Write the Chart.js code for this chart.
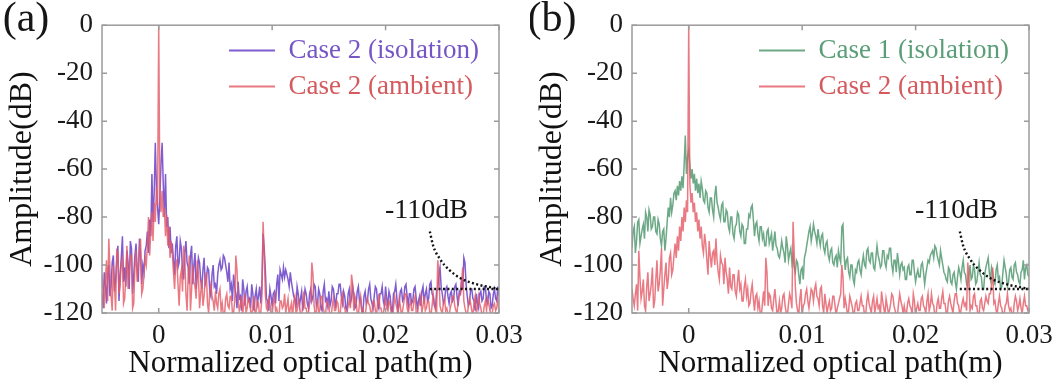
<!DOCTYPE html>
<html>
<head>
<meta charset="utf-8">
<script src="https://cdn.jsdelivr.net/npm/chart.js@4.4.1/dist/chart.umd.min.js"></script>
<style>
  html, body { margin: 0; padding: 0; background: #ffffff; overflow: hidden; }
  #wrap { position: relative; width: 1059px; height: 384px; }
  .panel { position: absolute; top: 0; width: 530px; height: 384px; }
</style>
</head>
<body>
<div id="wrap">
  <div class="panel" style="left:0"><canvas id="chartA" width="530" height="384"></canvas></div>
  <div class="panel" style="left:530px"><canvas id="chartB" width="530" height="384"></canvas></div>
</div>
<script>
// Sample positions along the normalized optical path, in millimetres (one row per mm)
const pathMm = [
  -5.0,-4.9,-4.8,-4.7,-4.6,-4.5,-4.4,-4.3,-4.2,-4.1,
  -4.0,-3.9,-3.8,-3.7,-3.6,-3.5,-3.4,-3.3,-3.2,-3.1,
  -3.0,-2.9,-2.8,-2.7,-2.6,-2.5,-2.4,-2.3,-2.2,-2.1,
  -2.0,-1.9,-1.8,-1.7,-1.6,-1.5,-1.4,-1.3,-1.2,-1.1,
  -1.0,-0.9,-0.8,-0.7,-0.6,-0.5,-0.4,-0.3,-0.2,-0.1,
  0.0,0.1,0.2,0.3,0.4,0.5,0.6,0.7,0.8,0.9,
  1.0,1.1,1.2,1.3,1.4,1.5,1.6,1.7,1.8,1.9,
  2.0,2.1,2.2,2.3,2.4,2.5,2.6,2.7,2.8,2.9,
  3.0,3.1,3.2,3.3,3.4,3.5,3.6,3.7,3.8,3.9,
  4.0,4.1,4.2,4.3,4.4,4.5,4.6,4.7,4.8,4.9,
  5.0,5.1,5.2,5.3,5.4,5.5,5.6,5.7,5.8,5.9,
  6.0,6.1,6.2,6.3,6.4,6.5,6.6,6.7,6.8,6.9,
  7.0,7.1,7.2,7.3,7.4,7.5,7.6,7.7,7.8,7.9,
  8.0,8.1,8.2,8.3,8.4,8.5,8.6,8.7,8.8,8.9,
  9.0,9.1,9.2,9.3,9.4,9.5,9.6,9.7,9.8,9.9,
  10.0,10.1,10.2,10.3,10.4,10.5,10.6,10.7,10.8,10.9,
  11.0,11.1,11.2,11.3,11.4,11.5,11.6,11.7,11.8,11.9,
  12.0,12.1,12.2,12.3,12.4,12.5,12.6,12.7,12.8,12.9,
  13.0,13.1,13.2,13.3,13.4,13.5,13.6,13.7,13.8,13.9,
  14.0,14.1,14.2,14.3,14.4,14.5,14.6,14.7,14.8,14.9,
  15.0,15.1,15.2,15.3,15.4,15.5,15.6,15.7,15.8,15.9,
  16.0,16.1,16.2,16.3,16.4,16.5,16.6,16.7,16.8,16.9,
  17.0,17.1,17.2,17.3,17.4,17.5,17.6,17.7,17.8,17.9,
  18.0,18.1,18.2,18.3,18.4,18.5,18.6,18.7,18.8,18.9,
  19.0,19.1,19.2,19.3,19.4,19.5,19.6,19.7,19.8,19.9,
  20.0,20.1,20.2,20.3,20.4,20.5,20.6,20.7,20.8,20.9,
  21.0,21.1,21.2,21.3,21.4,21.5,21.6,21.7,21.8,21.9,
  22.0,22.1,22.2,22.3,22.4,22.5,22.6,22.7,22.8,22.9,
  23.0,23.1,23.2,23.3,23.4,23.5,23.6,23.7,23.8,23.9,
  24.0,24.1,24.2,24.3,24.4,24.5,24.6,24.7,24.8,24.9,
  25.0,25.1,25.2,25.3,25.4,25.5,25.6,25.7,25.8,25.9,
  26.0,26.1,26.2,26.3,26.4,26.5,26.6,26.7,26.8,26.9,
  27.0,27.1,27.2,27.3,27.4,27.5,27.6,27.7,27.8,27.9,
  28.0,28.1,28.2,28.3,28.4,28.5,28.6,28.7,28.8,28.9,
  29.0,29.1,29.2,29.3,29.4,29.5,29.6,29.7,29.8,29.9,
  30.0
];

// Panel (a): Case 2 under isolation, amplitude in dB
const case2Isolation = [
  -112,-118,-103,-108,-116,-104,-100,-113,-109,-99,
  -96,-111,-106,-98,-92,-115,-104,-97,-88,-107,
  -101,-109,-94,-99,-110,-90,-93,-112,-104,-96,
  -91,-102,-107,-89,-95,-108,-100,-103,-94,-92,
  -86,-95,-81,-88,-62,-82,-70,-49,-68,-76,
  -83,-72,-58,-49,-66,-80,-62,-84,-80,-93,
  -84,-95,-91,-98,-104,-92,-88,-101,-99,-90,
  -93,-103,-106,-95,-90,-99,-101,-108,-96,-92,
  -108,-100,-95,-110,-104,-97,-99,-106,-110,-102,
  -97,-108,-106,-101,-102,-111,-113,-104,-100,-109,
  -108,-112,-104,-100,-98,-102,-101,-96,-97,-100,
  -103,-107,-99,-110,-108,-115,-104,-109,-112,-118,
  -107,-114,-113,-119,-106,-110,-117,-111,-109,-115,
  -114,-118,-108,-112,-119,-113,-110,-116,-113,-109,
  -116,-108,-87,-93,-102,-114,-115,-119,-110,-113,
  -117,-112,-111,-116,-108,-104,-115,-102,-104,-106,
  -101,-105,-102,-104,-106,-109,-103,-107,-110,-113,
  -114,-118,-109,-112,-117,-114,-111,-119,-115,-110,
  -112,-116,-118,-112,-110,-115,-113,-108,-109,-117,
  -116,-110,-112,-118,-119,-111,-108,-115,-114,-117,
  -111,-117,-115,-109,-110,-114,-118,-112,-112,-108,
  -108,-113,-116,-111,-113,-118,-119,-112,-110,-116,
  -114,-109,-112,-118,-117,-111,-109,-115,-114,-119,
  -120,-113,-111,-116,-115,-110,-108,-114,-116,-118,
  -113,-109,-110,-116,-118,-112,-112,-109,-115,-117,
  -109,-114,-117,-111,-113,-118,-120,-112,-111,-108,
  -114,-119,-116,-111,-110,-115,-114,-109,-108,-113,
  -117,-112,-112,-116,-115,-110,-109,-114,-118,-115,
  -113,-117,-111,-109,-116,-112,-110,-115,-114,-108,
  -107,-112,-113,-117,-118,-111,-110,-104,-101,-109,
  -112,-116,-115,-110,-109,-113,-116,-112,-111,-115,
  -114,-109,-108,-113,-117,-111,-112,-106,-110,-97,
  -99,-108,-113,-117,-116,-110,-110,-114,-115,-119,
  -112,-116,-118,-112,-111,-115,-114,-109,-109,-115,
  -116,-111,-112,-118,-117,-112,-110,-114,-115,-109,
  -113
];

// Panel (a): Case 2 under ambient conditions, amplitude in dB
const case2AmbientA = [
  -104,-111,-118,-106,-98,-115,-89,-102,-113,-119,
  -100,-108,-119,-94,-95,-112,-108,-99,-97,-116,
  -114,-104,-92,-110,-103,-96,-96,-118,-116,-101,
  -94,-107,-101,-93,-89,-112,-110,-104,-97,-100,
  -92,-80,-96,-86,-78,-90,-74,-82,-68,-75,
  0,-70,-78,-69,-80,-76,-88,-79,-92,-84,
  -97,-90,-95,-103,-110,-99,-98,-108,-117,-105,
  -102,-111,-92,-97,-112,-119,-104,-96,-119,-110,
  -100,-107,-109,-114,-98,-104,-118,-112,-106,-117,
  -113,-106,-103,-116,-120,-111,-108,-113,-115,-119,
  -111,-116,-118,-112,-110,-119,-116,-121,-121,-114,
  -112,-117,-118,-113,-113,-120,-120,-115,-96,-102,
  -114,-119,-117,-113,-121,-116,-112,-120,-118,-114,
  -115,-119,-122,-117,-113,-121,-119,-115,-116,-122,
  -120,-113,-82,-95,-112,-118,-119,-114,-116,-121,
  -121,-116,-113,-119,-118,-121,-122,-115,-115,-118,
  -117,-112,-120,-117,-114,-121,-118,-116,-122,-115,
  -113,-120,-119,-114,-116,-121,-121,-117,-111,-118,
  -118,-121,-120,-116,-115,-99,-104,-117,-121,-119,
  -114,-120,-119,-113,-113,-118,-120,-121,-116,-115,
  -118,-121,-122,-117,-114,-119,-119,-115,-116,-121,
  -121,-114,-112,-117,-118,-121,-120,-117,-115,-118,
  -104,-108,-119,-113,-115,-120,-121,-116,-113,-119,
  -118,-121,-122,-117,-114,-116,-117,-120,-120,-115,
  -115,-119,-121,-116,-112,-118,-118,-121,-120,-117,
  -114,-118,-119,-115,-116,-121,-122,-118,-113,-116,
  -118,-121,-114,-117,-121,-119,-116,-112,-112,-118,
  -120,-117,-115,-119,-119,-115,-113,-120,-121,-117,
  -116,-113,-120,-117,-113,-119,-118,-115,-115,-120,
  -121,-117,-112,-116,-119,-120,-98,-103,-117,-119,
  -120,-116,-114,-119,-118,-121,-121,-118,-116,-113,
  -113,-117,-119,-120,-115,-112,-112,-107,-101,-115,
  -118,-120,-121,-117,-114,-116,-119,-121,-116,-113,
  -120,-118,-113,-116,-118,-121,-121,-117,-115,-119,
  -114,-116,-119,-121,-120,-117,-116,-119,-118,-114,
  -118
];

// Panel (b): Case 1 under isolation, amplitude in dB
const case1Isolation = [
  -93,-86,-84,-95,-90,-82,-81,-91,-88,-85,
  -83,-89,-78,-80,-86,-77,-79,-85,-84,-80,
  -80,-86,-87,-81,-83,-89,-92,-86,-85,-94,
  -89,-82,-76,-80,-72,-78,-75,-70,-69,-73,
  -67,-71,-65,-69,-63,-68,-58,-46,-62,-55,
  -52,-58,-64,-60,-66,-62,-69,-64,-70,-66,
  -72,-65,-68,-73,-74,-69,-70,-76,-78,-72,
  -72,-77,-80,-71,-67,-74,-76,-79,-81,-75,
  -74,-82,-82,-77,-78,-84,-86,-80,-80,-87,
  -89,-84,-83,-78,-79,-86,-88,-83,-84,-91,
  -91,-85,-85,-79,-80,-76,-75,-81,-88,-83,
  -82,-87,-90,-84,-84,-89,-87,-92,-92,-86,
  -85,-91,-89,-87,-94,-90,-86,-92,-93,-96,
  -97,-94,-90,-93,-95,-99,-88,-92,-98,-95,
  -93,-99,-96,-101,-103,-98,-99,-104,-108,-102,
  -101,-106,-97,-95,-92,-89,-86,-84,-90,-87,
  -83,-86,-88,-91,-85,-89,-92,-88,-87,-93,
  -95,-91,-90,-96,-98,-94,-93,-99,-100,-97,
  -96,-101,-94,-97,-99,-84,-83,-96,-102,-98,
  -97,-103,-105,-100,-100,-106,-108,-102,-103,-99,
  -98,-102,-104,-99,-96,-100,-101,-94,-93,-98,
  -99,-95,-95,-101,-102,-97,-92,-96,-98,-101,
  -100,-94,-94,-99,-101,-96,-97,-93,-93,-100,
  -103,-98,-98,-103,-95,-99,-104,-100,-99,-102,
  -101,-106,-106,-101,-100,-104,-104,-98,-98,-103,
  -107,-104,-102,-105,-105,-100,-99,-103,-108,-104,
  -101,-98,-99,-96,-95,-94,-97,-92,-93,-96,
  -98,-100,-94,-97,-100,-103,-104,-106,-107,-101,
  -102,-107,-108,-104,-103,-107,-110,-105,-101,-103,
  -106,-101,-98,-103,-104,-108,-109,-104,-100,-106,
  -105,-100,-102,-108,-107,-103,-99,-104,-105,-110,
  -110,-104,-101,-99,-97,-103,-106,-101,-103,-107,
  -108,-102,-100,-106,-105,-110,-109,-103,-98,-101,
  -104,-109,-107,-102,-101,-105,-106,-100,-99,-103,
  -104,-107,-108,-103,-102,-98,-106,-101,-100,-104,
  -105
];

// Panel (b): Case 2 under ambient conditions, amplitude in dB
const case2AmbientB = [
  -110,-114,-117,-112,-108,-119,-94,-105,-114,-111,
  -106,-117,-119,-109,-103,-115,-112,-108,-101,-118,
  -115,-106,-98,-111,-108,-102,-93,-117,-110,-104,
  -99,-110,-106,-97,-95,-104,-102,-96,-91,-97,
  -88,-94,-84,-90,-80,-86,-76,-82,-73,-78,
  0,-66,-74,-70,-78,-74,-82,-78,-86,-81,
  -89,-84,-92,-95,-87,-91,-98,-104,-90,-96,
  -101,-95,-94,-100,-89,-98,-103,-106,-96,-99,
  -100,-108,-97,-103,-106,-112,-101,-109,-110,-104,
  -104,-111,-113,-107,-102,-110,-108,-115,-115,-109,
  -106,-113,-110,-117,-116,-111,-108,-114,-119,-113,
  -112,-118,-115,-120,-121,-116,-111,-117,-97,-103,
  -117,-112,-113,-118,-119,-114,-110,-116,-121,-119,
  -115,-120,-118,-113,-112,-117,-120,-121,-116,-112,
  -114,-118,-82,-95,-109,-116,-119,-121,-114,-110,
  -121,-117,-116,-112,-110,-115,-118,-114,-110,-111,
  -115,-110,-108,-113,-114,-117,-110,-109,-117,-120,
  -112,-116,-120,-117,-115,-119,-118,-113,-113,-117,
  -121,-118,-116,-114,-112,-100,-105,-118,-114,-117,
  -121,-119,-113,-115,-117,-120,-120,-116,-115,-119,
  -119,-116,-113,-117,-117,-121,-121,-115,-112,-116,
  -118,-120,-115,-113,-120,-117,-114,-118,-117,-121,
  -111,-115,-118,-121,-114,-117,-120,-119,-116,-112,
  -113,-117,-119,-121,-121,-116,-112,-115,-117,-120,
  -117,-120,-120,-116,-114,-117,-118,-121,-112,-115,
  -121,-118,-116,-119,-119,-114,-113,-117,-118,-120,
  -115,-112,-119,-117,-112,-116,-117,-121,-121,-116,
  -114,-118,-118,-114,-111,-116,-116,-120,-120,-115,
  -113,-116,-118,-120,-115,-112,-112,-116,-117,-121,
  -119,-116,-114,-117,-116,-119,-99,-104,-119,-117,
  -118,-113,-112,-117,-117,-121,-121,-115,-114,-118,
  -119,-116,-113,-115,-116,-112,-112,-108,-101,-116,
  -115,-119,-120,-116,-113,-117,-118,-121,-121,-117,
  -116,-112,-117,-119,-118,-121,-121,-116,-113,-115,
  -119,-117,-114,-118,-120,-116,-113,-117,-117,-119,
  -118
];

// Dotted guide pointing at the -110 dB noise floor
const floorCurveMm = [23.9, 24.2, 24.8, 25.6, 26.6, 28.0, 29.5, 30.0];
const floorCurveDb = [-86, -92, -97.5, -102, -105.5, -108, -109.5, -110];
const floorLineMm = [23.9, 30.0];
const floorLineDb = [-110, -110];
const floorNote = '-110dB';
const floorNoteAt = [23.6, -77.5]; // mm, dB

// Axis ticks
const xTickValues = [0, 0.01, 0.02, 0.03];
const xTickLabels = ['0', '0.01', '0.02', '0.03'];
const yTickValues = [0, -20, -40, -60, -80, -100, -120];
const yTickLabels = ['0', '-20', '-40', '-60', '-80', '-100', '-120'];

const SERIF = '"Liberation Serif", "Times New Roman", serif';

function toPoints(mm, db) {
  return mm.map((v, i) => ({ x: v / 1000, y: db[i] }));
}

// Box frame with inward tick marks, the floor note and the panel tag
const framePlugin = {
  id: 'frame',
  afterDatasetsDraw(chart, args, opts) {
    const { ctx, chartArea: a, scales: { x, y } } = chart;
    ctx.save();
    ctx.strokeStyle = '#9b9b9b';
    ctx.lineWidth = 1.5;
    ctx.strokeRect(a.left, a.top, a.right - a.left, a.bottom - a.top);
    ctx.beginPath();
    yTickValues.forEach(v => {
      const py = y.getPixelForValue(v);
      ctx.moveTo(a.left, py); ctx.lineTo(a.left + 5, py);
      ctx.moveTo(a.right, py); ctx.lineTo(a.right - 5, py);
    });
    xTickValues.forEach(v => {
      const px = x.getPixelForValue(v);
      ctx.moveTo(px, a.bottom); ctx.lineTo(px, a.bottom - 5);
      ctx.moveTo(px, a.top); ctx.lineTo(px, a.top + 5);
    });
    ctx.stroke();

    ctx.fillStyle = '#161616';
    ctx.textAlign = 'center';
    ctx.textBaseline = 'middle';
    ctx.font = '28px ' + SERIF;
    ctx.fillText(floorNote, x.getPixelForValue(floorNoteAt[0] / 1000), y.getPixelForValue(floorNoteAt[1]));

    ctx.font = '42px ' + SERIF;
    ctx.fillText(opts.tag, opts.tagX, opts.tagY);
    ctx.restore();
  }
};

// Keeps the legend block in the upper right of the plot area
const legendPlacer = {
  id: 'legendPlacer',
  beforeDraw(chart, args, opts) {
    const lg = chart.legend;
    if (!lg) return;
    lg.left = opts.left;
    lg.top = opts.top;
    lg.right = chart.width;
    lg.bottom = chart.height;
  }
};

function buildChart(canvasId, tag, series) {
  const datasets = series.map(s => ({
    label: s.label,
    data: toPoints(pathMm, s.values),
    borderColor: s.color,
    legendColor: s.textColor,
    borderWidth: 1.5,
    pointRadius: 0,
    tension: 0,
    order: s.order
  }));
  datasets.push({
    label: 'floor-curve',
    data: toPoints(floorCurveMm, floorCurveDb),
    borderColor: '#111111',
    borderWidth: 2.4,
    borderDash: [2, 2.4],
    pointRadius: 0,
    cubicInterpolationMode: 'monotone',
    order: -2
  });
  datasets.push({
    label: 'floor-line',
    data: toPoints(floorLineMm, floorLineDb),
    borderColor: '#111111',
    borderWidth: 2.4,
    borderDash: [2, 2.4],
    pointRadius: 0,
    order: -1
  });

  return new Chart(document.getElementById(canvasId), {
    type: 'line',
    data: { datasets },
    options: {
      responsive: false,
      animation: false,
      devicePixelRatio: 1,
      events: [],
      layout: { padding: { left: 0, top: 23.5, right: 31, bottom: 0 } },
      scales: {
        x: {
          type: 'linear',
          min: -0.005,
          max: 0.03,
          afterFit(scale) { scale.height = 71; },
          afterBuildTicks(scale) { scale.ticks = xTickValues.map(value => ({ value })); },
          grid: { display: false, drawTicks: false },
          border: { display: false },
          ticks: {
            autoSkip: false,
            maxRotation: 0,
            padding: 7,
            color: '#1a1a1a',
            font: { family: SERIF, size: 27 },
            callback: (v, i) => xTickLabels[i]
          },
          title: {
            display: true,
            text: 'Normalized optical path(m)',
            color: '#111111',
            font: { family: SERIF, size: 31 },
            padding: { top: 0, bottom: 2 }
          }
        },
        y: {
          min: -120,
          max: 0,
          afterFit(scale) { scale.width = 102; },
          afterBuildTicks(scale) { scale.ticks = yTickValues.map(value => ({ value })); },
          grid: { display: false, drawTicks: false },
          border: { display: false },
          ticks: {
            padding: 9,
            color: '#1a1a1a',
            font: { family: SERIF, size: 27 },
            callback: (v, i) => yTickLabels[i]
          },
          title: {
            display: true,
            text: 'Amplitude(dB)',
            color: '#111111',
            font: { family: SERIF, size: 32 },
            padding: { top: 3, bottom: 0 }
          }
        }
      },
      plugins: {
        tooltip: { enabled: false },
        legend: {
          position: 'chartArea',
          align: 'start',
          onClick: null,
          labels: {
            font: { family: SERIF, size: 27 },
            boxWidth: 46,
            boxHeight: 2,
            padding: 9,
            generateLabels(chart) {
              return chart.data.datasets
                .map((ds, i) => ({ ds, i }))
                .filter(o => o.ds.legendColor)
                .map(o => ({
                  text: o.ds.label,
                  fillStyle: o.ds.borderColor,
                  strokeStyle: o.ds.borderColor,
                  lineWidth: 0,
                  fontColor: o.ds.legendColor,
                  hidden: false,
                  datasetIndex: o.i
                }));
            }
          }
        },
        frame: { tag: tag, tagX: tag === '(a)' ? 26 : 22, tagY: 20 },
        legendPlacer: { left: 220, top: 28 }
      }
    },
    plugins: [framePlugin, legendPlacer]
  });
}

buildChart('chartA', '(a)', [
  { label: 'Case 2 (isolation)', values: case2Isolation, color: 'rgba(104,64,200,0.85)', textColor: '#7656c6', order: 2 },
  { label: 'Case 2 (ambient)', values: case2AmbientA, color: 'rgba(228,92,104,0.82)', textColor: '#d45a5e', order: 1 }
]);

buildChart('chartB', '(b)', [
  { label: 'Case 1 (isolation)', values: case1Isolation, color: 'rgba(84,154,114,0.85)', textColor: '#5a9e78', order: 2 },
  { label: 'Case 2 (ambient)', values: case2AmbientB, color: 'rgba(228,92,104,0.82)', textColor: '#d45a5e', order: 1 }
]);
</script>
</body>
</html>
